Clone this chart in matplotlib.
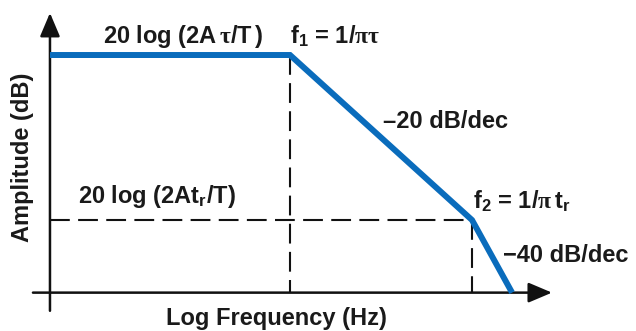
import numpy as np
import matplotlib
matplotlib.use("Agg")
import matplotlib.pyplot as plt

plt.rcParams['font.family'] = ['Liberation Sans', 'DejaVu Sans']
plt.rcParams['font.weight'] = 'bold'
plt.rcParams['font.size'] = 17
# 添字は太字サンセリフ、ギリシャ文字は細いセリフ体
plt.rcParams['mathtext.fontset'] = 'custom'
plt.rcParams['mathtext.rm'] = 'Liberation Sans:bold'
plt.rcParams['mathtext.it'] = 'Liberation Sans:bold'
plt.rcParams['mathtext.bf'] = 'Liberation Sans:bold'
plt.rcParams['mathtext.sf'] = 'Liberation Serif'

#折れ点（周波数は f1 で正規化, 振幅は dB）
corner_freq = [0.048, 1.0, 10.0, 16.6]
corner_db = [0.0, 0.0, -20.0, -28.8]
f1 = 1.0
f2 = 10.0
level_low = -20.0

#軸の範囲
x_axis_db = -28.8
y_axis_f = 0.048
x_axis_span = [0.0387, 27.5]
y_axis_span = [-31.0, 5.1]

blue = '#0a6cbc'

fig = plt.figure(figsize=(6.36, 3.31), dpi=100)
ax = fig.add_axes([0, 0, 1, 1])
ax.set_xscale('log')
ax.set_xlim(0.02551, 79.6)
ax.set_ylim(-33.45, 6.667)
ax.axis('off')

#破線（補助線）
dash = dict(color='#111111', lw=1.5, ls=(0, (9.5, 4.0)))
ax.plot([y_axis_f, f2], [level_low, level_low], **dash)
ax.plot([f1, f1], [0.0, x_axis_db], **dash)
ax.plot([f2, f2], [level_low, x_axis_db], **dash)

#座標軸（矢印つき）
arw = dict(arrowstyle='-|>,head_length=0.85,head_width=0.36', lw=1.8,
           color='#111111', shrinkA=0, shrinkB=0)
ax.annotate('', xy=(x_axis_span[1], x_axis_db), xytext=(x_axis_span[0], x_axis_db),
            arrowprops=arw)
ax.annotate('', xy=(y_axis_f, y_axis_span[1]), xytext=(y_axis_f, y_axis_span[0]),
            arrowprops=arw)

#振幅特性
ax.plot(corner_freq, corner_db, color=blue, lw=4.3, solid_joinstyle='miter',
        solid_capstyle='butt', zorder=3)

#ラベル
txt = '#1a1a1a'
ax.text(0.0939, 1.45, r"20 log (2A$\,\mathsf{\tau}$/T$\,$)", color=txt, va='baseline')
ax.text(1.0, 1.45, r"f$_1$ = 1/$\mathsf{\pi\tau}$", color=txt, va='baseline')
ax.text(3.24, -8.8, "–20 dB/dec", color=txt, va='baseline')
ax.text(0.0684, -17.94, r"20 log (2At$_\mathrm{r}$/T)", color=txt, va='baseline')
ax.text(10.1, -18.6, r"f$_2$ = 1/$\mathsf{\pi}\,$t$_\mathrm{r}$", color=txt, va='baseline')
ax.text(14.8, -25.05, "−40 dB/dec", color=txt, va='baseline')
ax.text(0.838, -32.7, "Log Frequency (Hz)", color=txt, ha='center', va='baseline')
ax.text(0.0341, -12.36, "Amplitude (dB)", color=txt, ha='center', va='center',
        rotation=90)

plt.savefig("out.png", dpi=100)
